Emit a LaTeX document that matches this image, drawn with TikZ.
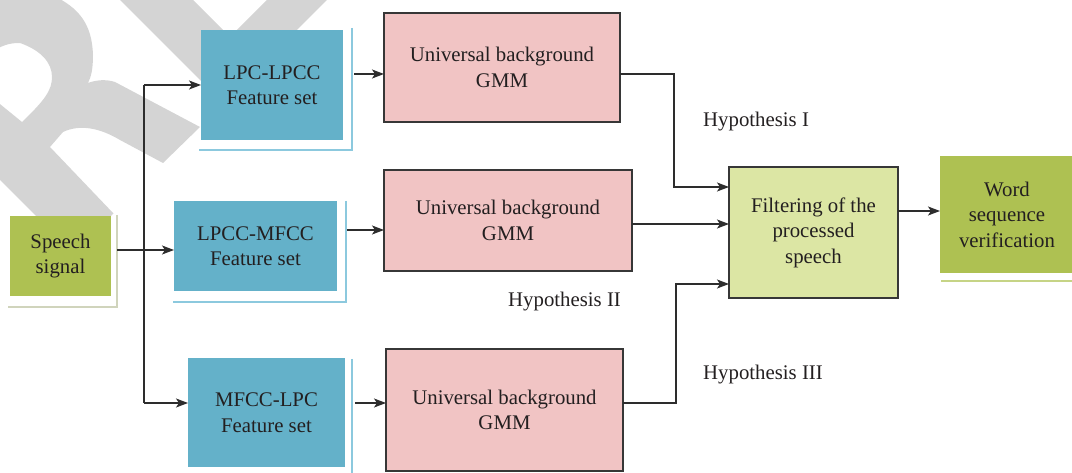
\documentclass[tikz,border=0pt]{standalone}
\usepackage{fontspec}
\setmainfont{Liberation Serif}
\usetikzlibrary{arrows.meta,calc}

\definecolor{featblue}{RGB}{100,177,201}
\definecolor{featframe}{RGB}{140,201,222}
\definecolor{gmmpink}{RGB}{241,196,196}
\definecolor{olive}{RGB}{174,193,82}
\definecolor{oliveframe}{RGB}{208,212,188}
\definecolor{oliveline}{RGB}{198,212,134}
\definecolor{filtergreen}{RGB}{220,230,164}
\definecolor{edgec}{RGB}{55,55,55}
\definecolor{linec}{RGB}{45,45,45}
\definecolor{txt}{RGB}{35,31,32}
\definecolor{wm}{RGB}{212,212,212}

\tikzset{
  box/.style={inner sep=0pt, outer sep=0pt, align=center, text=txt,
              font=\fontsize{20.8}{25.5}\selectfont},
  featbox/.style={box, fill=featblue},
  gmmbox/.style={box, fill=gmmpink, draw=edgec, line width=1.3pt},
  olivebox/.style={box, fill=olive},
  filterbox/.style={box, fill=filtergreen, draw=edgec, line width=1.3pt},
  hyplabel/.style={inner sep=0pt, anchor=base west, text=txt,
              font=\fontsize{20.8}{25.5}\selectfont},
  conn/.style={draw=linec, line width=1.4pt},
  arr/.style={conn, -{Stealth[length=12pt,width=9pt,inset=3pt]}},
  featline/.style={draw=featframe, line width=1.1pt},
  speechline/.style={draw=oliveframe, line width=1.1pt},
  wordline/.style={draw=oliveline, line width=2pt},
}

\begin{document}
\begin{tikzpicture}[x=1pt,y=-1pt]
\useasboundingbox (0,0) rectangle (1072,473);
\clip (0,0) rectangle (1072,473);

% grey watermark letters behind the chart
\fill[wm, even odd rule]
  (-5,-5) -- (52,-5) .. controls (80,8) and (92,25) .. (93,55)
  .. controls (93,70) and (91,77) .. (88,83)
  .. controls (96,80) and (106,79) .. (115,82) -- (200,127) -- (163,163)
  -- (120,140) .. controls (100,128) and (80,124) .. (63,132) -- (50,147)
  -- (113.5,213.5) -- (73.5,253.5) -- (-5,175) -- cycle
  (-5,50) .. controls (5,44) and (12,43) .. (20,43)
  .. controls (40,50) and (52,62) .. (52,77)
  .. controls (52,90) and (45,100) .. (22,122) -- (-5,100) -- cycle;
\fill[wm] (115,-5) -- (188,-5) -- (230,37) -- (272,-5) -- (332,-5)
  -- (223.5,103.5) -- cycle;

% boxes
\node[olivebox, minimum width=101pt, minimum height=80pt] (speech) at (60.5,256) {Speech\\signal};
\node[featbox, minimum width=142pt, minimum height=110pt] (f1) at (272,85) {LPC-LPCC\\Feature set};
\node[featbox, minimum width=163pt, minimum height=90pt] (f2) at (255.5,246) {LPCC-MFCC\\Feature set};
\node[featbox, minimum width=157pt, minimum height=109pt] (f3) at (266.5,412.5) {MFCC-LPC\\Feature set};
\node[gmmbox, minimum width=236pt, minimum height=109pt] (g1) at (502,67.5) {Universal background\\GMM};
\node[gmmbox, minimum width=248pt, minimum height=101pt] (g2) at (508,220.5) {Universal background\\GMM};
\node[gmmbox, minimum width=237pt, minimum height=122pt] (g3) at (504.5,410) {Universal background\\GMM};
\node[filterbox, minimum width=169pt, minimum height=131pt] (filter) at (813.5,232.5) {Filtering of the\\processed\\speech};
\node[olivebox, minimum width=134pt, minimum height=117pt] (word) at (1007,214.5) {Word\\sequence\\verification};

% offset frame lines beside the boxes
\draw[speechline] ($(speech.north east)+(6,-1)$) -- ($(speech.south east)+(6,11)$) -- ($(speech.south west)+(-2,11)$);
\draw[featline] ($(f1.north east)+(9,-2)$) -- ($(f1.south east)+(9,10)$) -- ($(f1.south west)+(-2,10)$);
\draw[featline] ($(f2.north east)+(9,0)$) -- ($(f2.south east)+(9,11)$) -- ($(f2.south west)+(-1,11)$);
\draw[featline] ($(f3.north east)+(7,1)$) -- ($(f3.south east)+(7,11)$) -- ($(f3.south west)+(-1,11)$);
\draw[wordline] ($(word.south west)+(1,8)$) -- ($(word.south east)+(0,8)$);

% branching of the speech signal
\coordinate (split) at (144,250);
\coordinate (top) at (144,85);
\coordinate (bot) at (144,403);
\draw[conn] ([xshift=6pt]speech.east |- split) -- (split);
\draw[arr] (split) -- (f2.west |- split);
\draw[conn] (top) -- (bot);
\draw[arr] (top) -- (f1.west |- top);
\draw[arr] (bot) -- (f3.west |- bot);

% feature sets to the GMMs
\coordinate (r1) at (354,74);
\coordinate (r2) at (347,230);
\coordinate (r3) at (355,403);
\draw[arr] (r1) -- (g1.west |- r1);
\draw[arr] (r2) -- (g2.west |- r2);
\draw[arr] (r3) -- (g3.west |- r3);

% GMM outputs into the filter
\coordinate (k1) at (674,74);
\coordinate (k1b) at (674,187);
\coordinate (k2) at (700,224);
\coordinate (k3) at (676,403);
\coordinate (k3b) at (676,284);
\draw[arr] (g1.east |- k1) -- (k1) -- (k1b) -- (filter.west |- k1b);
\draw[arr] (g2.east |- k2) -- (filter.west |- k2);
\draw[arr] (g3.east |- k3) -- (k3) -- (k3b) -- (filter.west |- k3b);

% filter to the result
\coordinate (w) at (920,211);
\draw[arr] (filter.east |- w) -- (word.west |- w);

% hypothesis labels
\node[hyplabel] (h1) at (703,127) {Hypothesis I};
\node[hyplabel] (h2) at (508,307) {Hypothesis II};
\node[hyplabel] (h3) at (703,379) {Hypothesis III};
\end{tikzpicture}
\end{document}
